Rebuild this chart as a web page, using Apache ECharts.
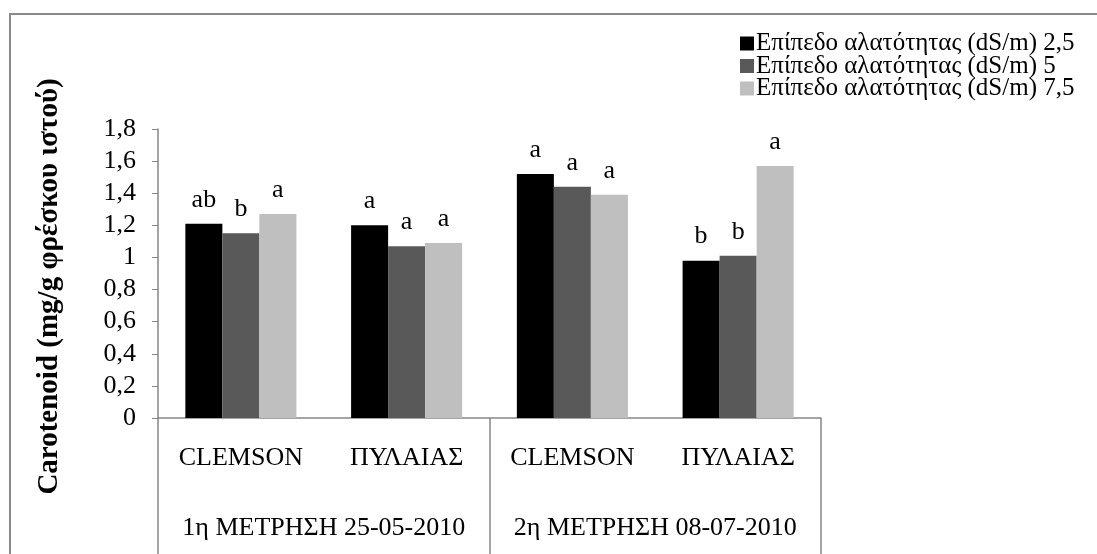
<!DOCTYPE html>
<html>
<head>
<meta charset="utf-8">
<script src="https://cdn.jsdelivr.net/npm/echarts@6/dist/echarts.min.js"></script>
<style>
  html, body { margin: 0; padding: 0; background: #fff; }
  #frame { position: absolute; left: 9px; top: 13px; width: 1100px; height: 560px; border-left: 2px solid #8a8a8a; border-top: 2px solid #8a8a8a; box-sizing: border-box; }
  #chart { position: absolute; left: 0; top: 0; width: 1097px; height: 554px; }
</style>
</head>
<body>
<div id="frame"></div>
<div id="chart"></div>
<script>
// Cultivars per sampling date, and the two sampling dates
const cultivars = ['CLEMSON', 'ΠΥΛΑΙΑΣ', 'CLEMSON', 'ΠΥΛΑΙΑΣ'];
const samplings = ['1η ΜΕΤΡΗΣΗ 25-05-2010', '2η ΜΕΤΡΗΣΗ 08-07-2010'];

// Salinity levels
const seriesNames = [
  'Επίπεδο αλατότητας (dS/m) 2,5',
  'Επίπεδο αλατότητας (dS/m) 5',
  'Επίπεδο αλατότητας (dS/m) 7,5'
];

// Carotenoid content (mg/g fresh tissue)
const salinity25 = [1.21, 1.20, 1.52, 0.98];
const salinity5 = [1.15, 1.07, 1.44, 1.01];
const salinity75 = [1.27, 1.09, 1.39, 1.57];

// Significance letters
const letters25 = ['ab', 'a', 'a', 'b'];
const letters5 = ['b', 'a', 'a', 'b'];
const letters75 = ['a', 'a', 'a', 'a'];

const yTicks = [0, 0.2, 0.4, 0.6, 0.8, 1, 1.2, 1.4, 1.6, 1.8];

const colors = ['#000000', '#595959', '#bfbfbf'];
const FONT = '"Liberation Serif", "Times New Roman", serif';
const AXIS = '#868686';

function makeSeries(name, values, letters, color) {
  return {
    name: name,
    type: 'bar',
    xAxisIndex: 0,
    barGap: '0%',
    barCategoryGap: '33%',
    itemStyle: { color: color },
    data: values.map((v, i) => ({ value: v, letter: letters[i] })),
    label: {
      show: true,
      position: 'top',
      distance: 11,
      color: '#000',
      fontFamily: FONT,
      fontSize: 26,
      formatter: p => p.data.letter
    }
  };
}

const chart = echarts.init(document.getElementById('chart'), null, { renderer: 'canvas' });
chart.setOption({
  animation: false,
  backgroundColor: 'transparent',
  textStyle: { fontFamily: FONT },
  color: colors,
  legend: {
    orient: 'vertical',
    left: 735,
    top: 26,
    itemWidth: 14,
    itemHeight: 14,
    itemGap: -2.5,
    icon: 'rect',
    textStyle: { fontFamily: FONT, fontSize: 25, color: '#000', padding: [0, 0, 0, -3] },
    data: seriesNames
  },
  grid: { left: 158, right: 276, top: 129, bottom: 136, containLabel: false },
  xAxis: [
    {
      type: 'category',
      data: cultivars,
      position: 'bottom',
      axisLine: { show: true, lineStyle: { color: AXIS, width: 1.5 } },
      axisTick: { show: false },
      axisLabel: { interval: 0, hideOverlap: false, margin: 27, fontFamily: FONT, fontSize: 26, color: '#000' }
    },
    {
      type: 'category',
      data: samplings,
      position: 'bottom',
      axisLine: { show: false },
      axisTick: { show: true, length: 140, interval: 0, lineStyle: { color: AXIS, width: 1.5 } },
      axisLabel: { interval: 0, hideOverlap: false, margin: 97, fontFamily: FONT, fontSize: 26, color: '#000' }
    }
  ],
  yAxis: {
    type: 'value',
    min: 0,
    max: 1.8,
    interval: 0.2,
    name: 'Carotenoid (mg/g φρέσκου ιστού)',
    nameLocation: 'middle',
    nameGap: 94,
    nameRotate: 90,
    nameTextStyle: { fontFamily: FONT, fontSize: 29, fontWeight: 'bold', color: '#000', padding: [0, 26, 0, 0] },
    axisLine: { show: true, lineStyle: { color: AXIS, width: 1.5 } },
    axisTick: { show: true, length: 6, lineStyle: { color: AXIS } },
    splitLine: { show: false },
    axisLabel: {
      margin: 22,
      fontFamily: FONT,
      fontSize: 26,
      color: '#000',
      formatter: v => {
        const t = yTicks.find(x => Math.abs(x - v) < 1e-9);
        return String(t !== undefined ? t : v).replace('.', ',');
      }
    }
  },
  series: [
    makeSeries(seriesNames[0], salinity25, letters25, colors[0]),
    makeSeries(seriesNames[1], salinity5, letters5, colors[1]),
    makeSeries(seriesNames[2], salinity75, letters75, colors[2])
  ]
});
</script>
</body>
</html>
